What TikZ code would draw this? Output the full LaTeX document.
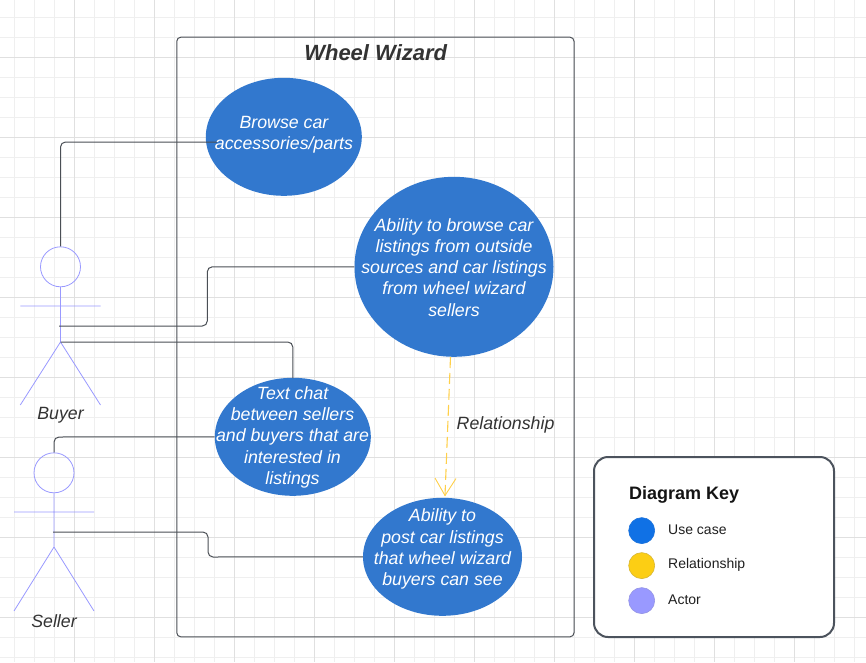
\documentclass[tikz,border=0pt]{standalone}
\usepackage{fontspec}
\setmainfont{Liberation Sans}
\usetikzlibrary{shapes.geometric}
\definecolor{ucblue}{HTML}{3278CE}
\definecolor{actorc}{HTML}{9999FF}
\definecolor{relc}{HTML}{FFD04A}
\definecolor{linec}{HTML}{4A4F55}
\definecolor{keyc}{HTML}{4C535D}
\definecolor{txtc}{HTML}{333333}
\definecolor{gridmin}{HTML}{EFEFEF}
\definecolor{gridmaj}{HTML}{E0E0E0}
\definecolor{keyblue}{HTML}{1071E5}
\definecolor{keyyellow}{HTML}{FCCE14}
\tikzset{
  usecase/.style={ellipse,fill=ucblue,draw=none,inner sep=0pt},
  uctext/.style={text=white,align=center,inner sep=0pt,font=\fontsize{17.75}{21.3}\selectfont\itshape},
  capt/.style={text=txtc,inner sep=0pt,font=\fontsize{17.75}{21}\selectfont\itshape},
  actorline/.style={draw=actorc,line width=0.8pt},
  conn/.style={draw=linec,line width=1pt,rounded corners=5pt},
  rel/.style={draw=relc,line width=1.1pt},
  keydot/.style={circle,minimum size=26pt,inner sep=0pt,line width=0.6pt},
  keytext/.style={anchor=west,inner sep=0pt,text=black!88,font=\fontsize{14}{16}\selectfont}
}
\begin{document}
\begin{tikzpicture}[x=1pt,y=-1pt]
\useasboundingbox (0,0) rectangle (866,662);
\fill[white] (0,0) rectangle (866,662);
% grid
\foreach \x in {14.5,34.5,...,854.5} \draw[gridmin,line width=0.8pt] (\x,0) -- (\x,662);
\foreach \y in {17.5,37.5,...,657.5} \draw[gridmin,line width=0.8pt] (0,\y) -- (866,\y);
\foreach \x in {74.5,154.5,...,854.5} \draw[gridmaj,line width=0.8pt] (\x,0) -- (\x,662);
\foreach \y in {57.5,137.5,...,617.5} \draw[gridmaj,line width=0.8pt] (0,\y) -- (866,\y);
% system boundary
\draw[draw=linec,line width=1pt,rounded corners=4pt] (176.8,37.2) rectangle (574,636.8);
\node[capt,font=\fontsize{22}{26}\selectfont\bfseries\itshape] (title) at (375.7,52.3) {Wheel Wizard};
% use cases
\node[usecase,minimum width=156pt,minimum height=118pt] (e1) at (283.8,136.8) {};
\node[usecase,minimum width=199pt,minimum height=180pt] (e2) at (454,266.8) {};
\node[usecase,minimum width=156pt,minimum height=118pt] (e3) at (292.8,436.8) {};
\node[usecase,minimum width=159pt,minimum height=118pt] (e4) at (442.5,556.8) {};
% actors
\node[circle,draw=actorc,line width=0.8pt,minimum size=40pt,inner sep=0pt] (bhead) at (60.5,266.8) {};
\coordinate (bhip) at (60.5,342);
\coordinate (bwaist) at (59,326);
\coordinate (bal) at (20.3,306); \coordinate (bar) at (100.5,306);
\coordinate (bll) at (20.3,405); \coordinate (blr) at (100.5,405);
\draw[actorline] (bhead.south) -- (bhip) (bal) -- (bar) (bll) -- (bhip) -- (blr);
\node[capt] (buyer) at (60.5,415) {Buyer};
\node[circle,draw=actorc,line width=0.8pt,minimum size=40pt,inner sep=0pt] (shead) at (54,472.8) {};
\coordinate (ship) at (54,547);
\coordinate (swaist) at (53,532);
\coordinate (sal) at (14,512); \coordinate (sar) at (94,512);
\coordinate (sll) at (14,611); \coordinate (slr) at (94,611);
\draw[actorline] (shead.south) -- (ship) (sal) -- (sar) (sll) -- (ship) -- (slr);
\node[capt] (seller) at (54,621) {Seller};
% connectors
\coordinate (e1in) at (217,142);
\draw[conn] (bhead.north) -- (60.5,142) -- (e1in);
\draw[conn] (bwaist) -- (207.3,326) -- (207.3,266.8) -- (e2.west);
\draw[conn] (bhip) -- (292.8,342) -- (292.8,378);
\draw[conn] (shead.north) -- (54,437) -- (e3.west);
\draw[conn] (swaist) -- (208,532) -- (208,557) -- (e4.west);
% relationship
\coordinate (relfrom) at (450.5,357);
\coordinate (relto) at (445,495.5);
\draw[rel,dash pattern=on 11pt off 5pt] (relfrom) -- (relto);
\draw[rel,line width=0.9pt] (435,478) -- (relto) -- (456,478.5);
\node[capt,anchor=west] (rellab) at (456.5,425) {Relationship};
% use case texts
\node[uctext] (t1) at (284,134.6) {Browse car\\accessories/parts};
\node[uctext] (t2) at (454,267.3) {Ability to browse car\\listings from outside\\sources and car listings\\from wheel wizard\\sellers};
\node[uctext] (t3) at (292.5,437.3) {Text chat\\between sellers\\and buyers that are\\interested in\\listings};
\node[uctext] (t4) at (442.5,549.3) {Ability to\\post car listings\\that wheel wizard\\buyers can see};
% key
\draw[draw=keyc,fill=white,line width=2pt,rounded corners=14pt] (594,457) rectangle (834,637);
\node[anchor=west,inner sep=0pt,text=black!92,font=\fontsize{18}{21}\selectfont\bfseries] (keyt) at (629,494.8) {Diagram Key};
\node[keydot,fill=keyblue,draw=keyblue!90!gray] (k1) at (641.7,530.6) {};
\node[keydot,fill=keyyellow,draw=keyyellow!70!gray] (k2) at (641.7,565.6) {};
\node[keydot,fill=actorc,draw=actorc!80!gray] (k3) at (641.7,600.6) {};
\node[keytext] (k1t) at (668,529.8) {Use case};
\node[keytext] (k2t) at (668,564.8) {Relationship};
\node[keytext] (k3t) at (668,599.8) {Actor};
\end{tikzpicture}
\end{document}
